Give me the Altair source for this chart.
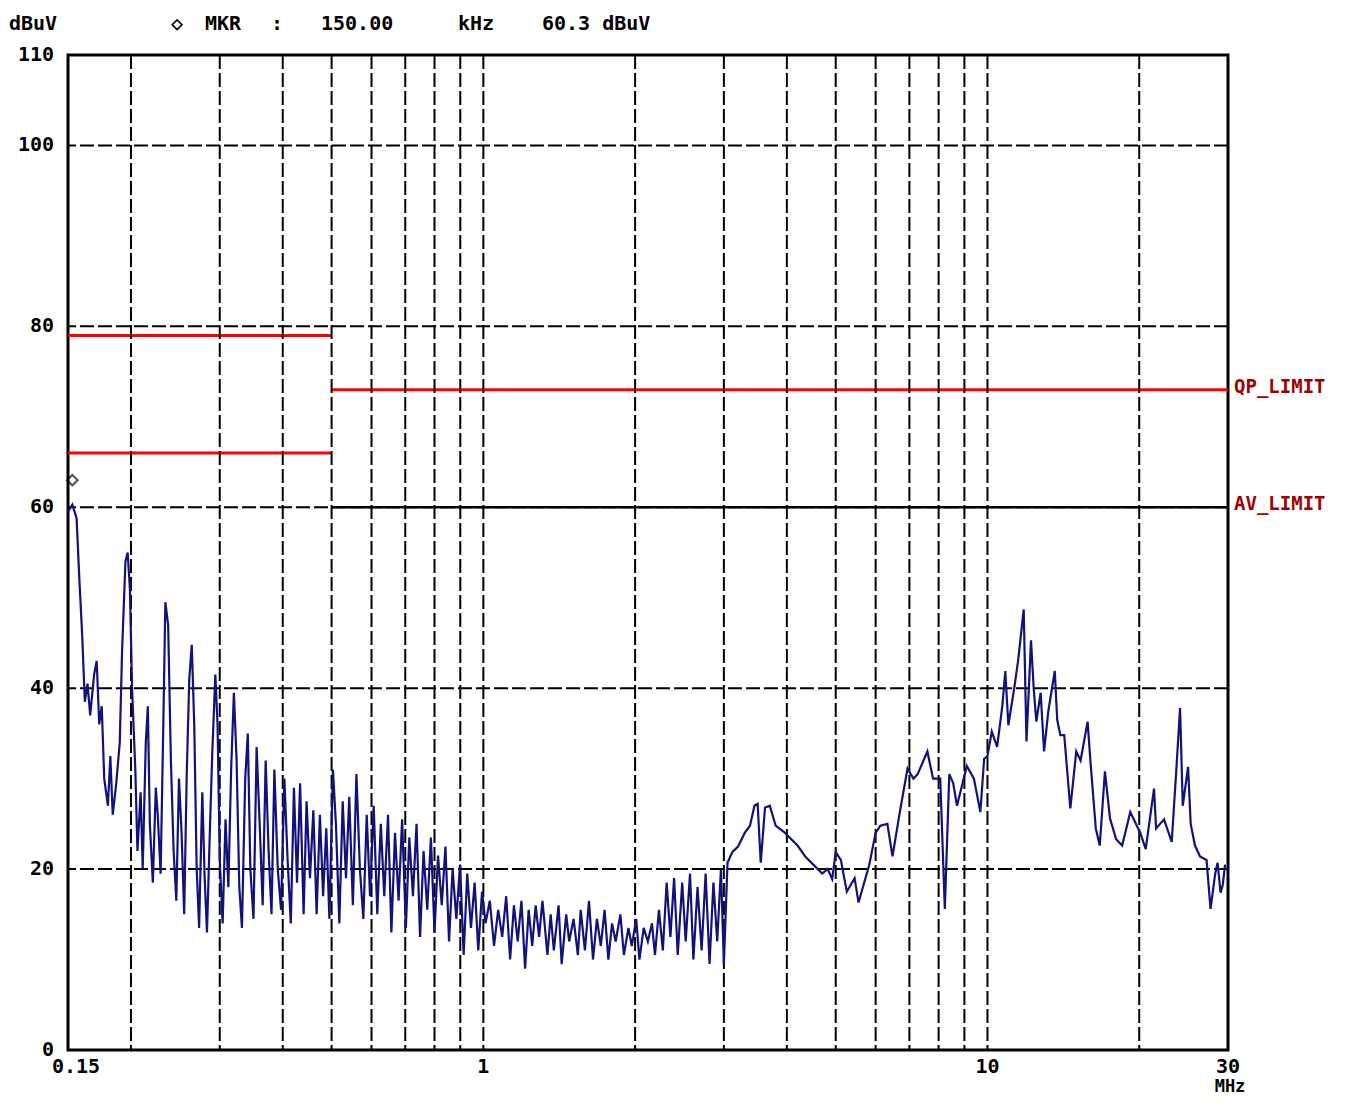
import altair as alt
import pandas as pd

# ---------------- data ----------------
freq_mhz = [
    0.150, 0.153, 0.156, 0.158, 0.160, 0.162, 0.164, 0.166, 0.169, 0.171,
    0.173, 0.175, 0.177, 0.180, 0.182, 0.184, 0.187, 0.190, 0.192, 0.195,
    0.197, 0.199, 0.201, 0.204, 0.206, 0.209, 0.211, 0.214, 0.216, 0.218,
    0.221, 0.224, 0.226, 0.229, 0.232, 0.234, 0.237, 0.240, 0.243, 0.246,
    0.249, 0.252, 0.255, 0.258, 0.261, 0.264, 0.267, 0.270, 0.273, 0.277,
    0.280, 0.283, 0.287, 0.290, 0.294, 0.297, 0.300, 0.304, 0.308, 0.312,
    0.316, 0.320, 0.324, 0.328, 0.332, 0.337, 0.341, 0.345, 0.350, 0.355,
    0.360, 0.365, 0.370, 0.375, 0.380, 0.385, 0.391, 0.397, 0.403, 0.409,
    0.415, 0.421, 0.427, 0.433, 0.440, 0.446, 0.453, 0.460, 0.467, 0.474,
    0.481, 0.488, 0.495, 0.503, 0.510, 0.518, 0.526, 0.534, 0.542, 0.551,
    0.560, 0.569, 0.578, 0.587, 0.596, 0.606, 0.616, 0.626, 0.636, 0.647,
    0.657, 0.668, 0.679, 0.690, 0.702, 0.713, 0.725, 0.737, 0.749, 0.761,
    0.774, 0.787, 0.800, 0.813, 0.827, 0.841, 0.855, 0.869, 0.884, 0.899,
    0.914, 0.929, 0.945, 0.961, 0.977, 0.994, 1.01, 1.03, 1.05, 1.07,
    1.09, 1.11, 1.13, 1.15, 1.17, 1.19, 1.21, 1.23, 1.25, 1.27,
    1.29, 1.31, 1.34, 1.36, 1.38, 1.41, 1.43, 1.46, 1.48, 1.51,
    1.54, 1.56, 1.59, 1.62, 1.65, 1.68, 1.71, 1.74, 1.77, 1.80,
    1.83, 1.87, 1.90, 1.94, 1.97, 2.01, 2.04, 2.08, 2.12, 2.16,
    2.19, 2.23, 2.27, 2.31, 2.35, 2.39, 2.43, 2.48, 2.52, 2.57,
    2.61, 2.66, 2.71, 2.76, 2.81, 2.86, 2.91, 2.96, 3.00, 3.05,
    3.12, 3.20, 3.30, 3.38, 3.45, 3.50, 3.55, 3.62, 3.70, 3.80,
    3.95, 4.20, 4.35, 4.55, 4.70, 4.82, 4.92, 5.00, 5.12, 5.26,
    5.45, 5.55, 5.83, 6.00, 6.13, 6.33, 6.48, 6.72, 6.94, 7.13,
    7.27, 7.60, 7.80, 8.06, 8.23, 8.40, 8.55, 8.70, 9.10, 9.40,
    9.68, 9.85, 10.0, 10.2, 10.45, 10.7, 10.85, 11.0, 11.3, 11.5,
    11.8, 11.95, 12.2, 12.35, 12.5, 12.75, 12.95, 13.2, 13.6, 13.75,
    13.95, 14.2, 14.6, 15.0, 15.3, 15.8, 16.0, 16.4, 16.7, 17.1,
    17.5, 18.0, 18.5, 19.2, 20.1, 20.6, 21.4, 21.6, 22.4, 23.2,
    23.7, 24.1, 24.4, 25.0, 25.3, 25.8, 26.4, 27.2, 27.7, 28.3,
    28.6, 29.0, 29.3, 29.6,
]
level_dbuv = [
    59.5, 60.3, 58.8, 52.0, 46.0, 38.5, 40.5, 37.0, 41.5, 43.0,
    36.0, 38.0, 30.0, 27.0, 32.5, 26.0, 29.5, 34.0, 44.0, 54.0,
    55.0, 51.0, 40.0, 31.0, 22.0, 28.5, 20.0, 34.0, 38.0, 25.0,
    18.5, 29.0, 26.0, 19.5, 37.0, 49.5, 47.0, 32.0, 22.0, 16.5,
    30.0, 24.0, 15.0, 30.5, 41.0, 44.8, 36.0, 20.0, 13.5, 28.5,
    19.0, 13.0, 25.0, 33.0, 41.5, 36.0, 21.0, 14.0, 25.5, 18.0,
    31.0, 39.5, 32.0, 18.0, 13.5, 30.0, 35.0, 20.0, 14.5, 33.5,
    25.0, 16.0, 32.0, 22.0, 15.0, 31.0, 20.0, 15.5, 30.0, 21.0,
    14.0, 29.0, 18.5, 29.5, 15.0, 27.5, 19.0, 26.5, 15.0, 26.0,
    17.0, 24.5, 14.5, 31.0, 25.0, 14.0, 27.5, 19.0, 28.0, 16.0,
    30.5, 20.0, 14.5, 26.0, 17.0, 27.0, 15.0, 25.0, 17.0, 26.0,
    13.0, 24.0, 16.5, 25.5, 13.5, 23.5, 17.0, 25.0, 12.5, 22.0,
    15.5, 23.5, 13.0, 21.5, 16.0, 22.5, 12.0, 20.0, 14.5, 20.5,
    10.5, 19.5, 13.5, 18.5, 11.0, 17.5, 14.0, 16.5, 11.5, 15.5,
    12.5, 17.0, 10.0, 16.0, 12.0, 16.5, 9.0, 15.5, 11.5, 16.0,
    12.5, 16.5, 10.5, 15.0, 11.0, 16.0, 9.5, 15.0, 12.0, 14.5,
    10.5, 15.5, 11.0, 16.5, 10.0, 14.5, 11.5, 15.5, 10.0, 14.0,
    12.0, 15.0, 10.5, 13.5, 11.5, 14.5, 10.0, 13.5, 12.0, 14.0,
    10.5, 15.5, 11.0, 18.5, 12.5, 19.0, 10.5, 18.5, 12.0, 19.5,
    10.0, 18.0, 11.0, 19.5, 9.5, 18.5, 12.0, 20.0, 9.5, 20.7,
    21.9, 22.5, 24.0, 24.8, 27.0, 27.2, 20.7, 26.8, 27.0, 24.8,
    24.1, 22.6, 21.4, 20.3, 19.5, 20.0, 18.9, 21.9, 21.0, 17.5,
    19.0, 16.3, 20.5, 24.0, 24.8, 25.0, 21.4, 26.7, 31.1, 30.0,
    30.5, 33.0, 30.0, 30.0, 15.6, 30.5, 29.5, 27.0, 31.4, 30.0,
    26.3, 32.2, 32.5, 35.2, 33.5, 38.0, 41.9, 35.9, 40.0, 43.0,
    48.7, 34.1, 45.3, 40.0, 36.3, 39.5, 33.0, 37.4, 41.9, 36.5,
    34.8, 34.8, 26.7, 33.0, 32.0, 36.3, 32.0, 24.5, 22.6, 30.8,
    25.6, 23.3, 22.6, 26.3, 24.0, 22.2, 28.9, 24.5, 25.5, 23.0,
    31.1, 37.8, 27.0, 31.3, 25.0, 22.6, 21.4, 21.0, 15.6, 19.5,
    20.7, 17.4, 18.3, 20.5,
]

grid_freq_mhz = [0.2, 0.3, 0.4, 0.5, 0.6, 0.7, 0.8, 0.9, 1, 2, 3, 4, 5, 6, 7, 8, 9, 10, 20]
grid_level_db = [20, 40, 60, 80, 100]

limit_name = ["QP", "QP", "AV", "AV"]
limit_start_mhz = [0.15, 0.5, 0.15, 0.5]
limit_end_mhz = [0.5, 30, 0.5, 30]
limit_level_db = [79, 73, 66, 60]

y_tick_values = [0, 20, 40, 60, 80, 100, 110]
y_tick_labels = ["0", "20", "40", "60", "80", "100", "110"]
x_tick_values = [0.15, 1, 10, 30]
x_tick_labels = ["0.15", "1", "10", "30"]
x_unit = "MHz"

marker_freq = [0.153]
marker_level = [63.0]

header_texts = ["dBuV", "\u25c7", "MKR", ":", "150.00", "kHz", "60.3 dBuV"]
limit_labels = ["QP_LIMIT", "AV_LIMIT"]
limit_label_levels = [73, 60]

# ---------------- chart ----------------
FONT = "DejaVu Sans Mono"
W, H = 1160, 995
xscale = alt.Scale(type="log", domain=[0.15, 30], nice=False)
yscale = alt.Scale(domain=[0, 110], nice=False, zero=False)

trace_df = pd.DataFrame({"f": freq_mhz, "v": level_dbuv, "i": range(len(freq_mhz))})
vgrid_df = pd.DataFrame({"f": grid_freq_mhz})
hgrid_df = pd.DataFrame({"v": grid_level_db})
lim_df = pd.DataFrame({"name": limit_name, "f1": limit_start_mhz, "f2": limit_end_mhz, "v": limit_level_db})
ylab_df = pd.DataFrame({"v": y_tick_values, "t": y_tick_labels})
xlab_df = pd.DataFrame({"f": x_tick_values, "t": x_tick_labels, "k": range(len(x_tick_values))})
mk_df = pd.DataFrame({"f": marker_freq, "v": marker_level})
ll_df = pd.DataFrame({"t": limit_labels, "v": limit_label_levels, "f": [30, 30]})


def X(field):
    return alt.X(field, scale=xscale, axis=None)


def Y(field):
    return alt.Y(field, scale=yscale, axis=None)


# red limit lines (the AV line above 0.5 MHz coincides with the 60 dB grid line and shows black)
limits_red = alt.Chart(lim_df).transform_filter(
    "!(datum.name == 'AV' && datum.f1 >= 0.5)").mark_rule(color="#ff0000", strokeWidth=3).encode(
    x=X("f1:Q"), x2="f2:Q", y=Y("v:Q"))
limits_av_hi = alt.Chart(lim_df).transform_filter(
    "datum.name == 'AV' && datum.f1 >= 0.5").mark_rule(color="black", strokeWidth=2.5).encode(
    x=X("f1:Q"), x2="f2:Q", y=Y("v:Q"))

vgrid = alt.Chart(vgrid_df).mark_rule(color="black", strokeWidth=2, strokeDash=[14, 4]).encode(
    x=X("f:Q"))
hgrid = alt.Chart(hgrid_df).mark_rule(color="black", strokeWidth=2, strokeDash=[14, 4]).encode(
    y=Y("v:Q"))

trace = alt.Chart(trace_df).mark_line(color="#12127a", strokeWidth=2.2).encode(
    x=X("f:Q"), y=Y("v:Q"), order="i:Q")

marker = alt.Chart(mk_df).mark_point(shape="diamond", filled=False, color="black",
                                     size=110, strokeWidth=2).encode(x=X("f:Q"), y=Y("v:Q"))

ylab = alt.Chart(ylab_df).mark_text(align="right", baseline="middle", font=FONT, fontSize=20,
                                    fontWeight="bold", color="black").encode(
    x=alt.value(-14), y=Y("v:Q"), text="t:N")

xlab_first = alt.Chart(xlab_df).transform_filter("datum.k == 0").mark_text(
    align="left", baseline="middle", font=FONT, fontSize=20, fontWeight="bold", color="black",
    dx=-16).encode(x=X("f:Q"), y=alt.value(H + 17), text="t:N")
xlab_rest = alt.Chart(xlab_df).transform_filter("datum.k > 0").mark_text(
    align="center", baseline="middle", font=FONT, fontSize=20, fontWeight="bold", color="black").encode(
    x=X("f:Q"), y=alt.value(H + 17), text="t:N")
unit = alt.Chart(pd.DataFrame({"f": [30], "t": [x_unit]})).mark_text(
    align="center", baseline="middle", font=FONT, fontSize=17, fontWeight="bold", color="black",
    dx=2).encode(x=X("f:Q"), y=alt.value(H + 37), text="t:N")

limlab = alt.Chart(ll_df).mark_text(align="left", baseline="middle", font=FONT, fontSize=19,
                                    fontWeight="bold", color="#a00000", dx=6, dy=-3).encode(
    x=X("f:Q"), y=Y("v:Q"), text="t:N")

header_x = [-59, 103, 137, 203, 253, 390, 474]
header_layers = []
for txt, hx in zip(header_texts, header_x):
    header_layers.append(
        alt.Chart(pd.DataFrame({"t": [txt]})).mark_text(
            align="left", baseline="middle", font=FONT, fontSize=20, fontWeight="bold",
            color="black").encode(x=alt.value(hx), y=alt.value(-31), text="t:N"))

chart = alt.layer(
    limits_red, vgrid, hgrid, limits_av_hi, trace, marker, ylab, xlab_first, xlab_rest, unit, limlab,
    *header_layers
).properties(
    width=W, height=H,
    padding={"left": 60, "top": 47, "right": 130, "bottom": 48},
    autosize=alt.AutoSizeParams(type="none"),
    background="white",
).configure_view(stroke="black", strokeWidth=3)

chart.save("out.html", embed_options={"renderer": "svg", "actions": False})
